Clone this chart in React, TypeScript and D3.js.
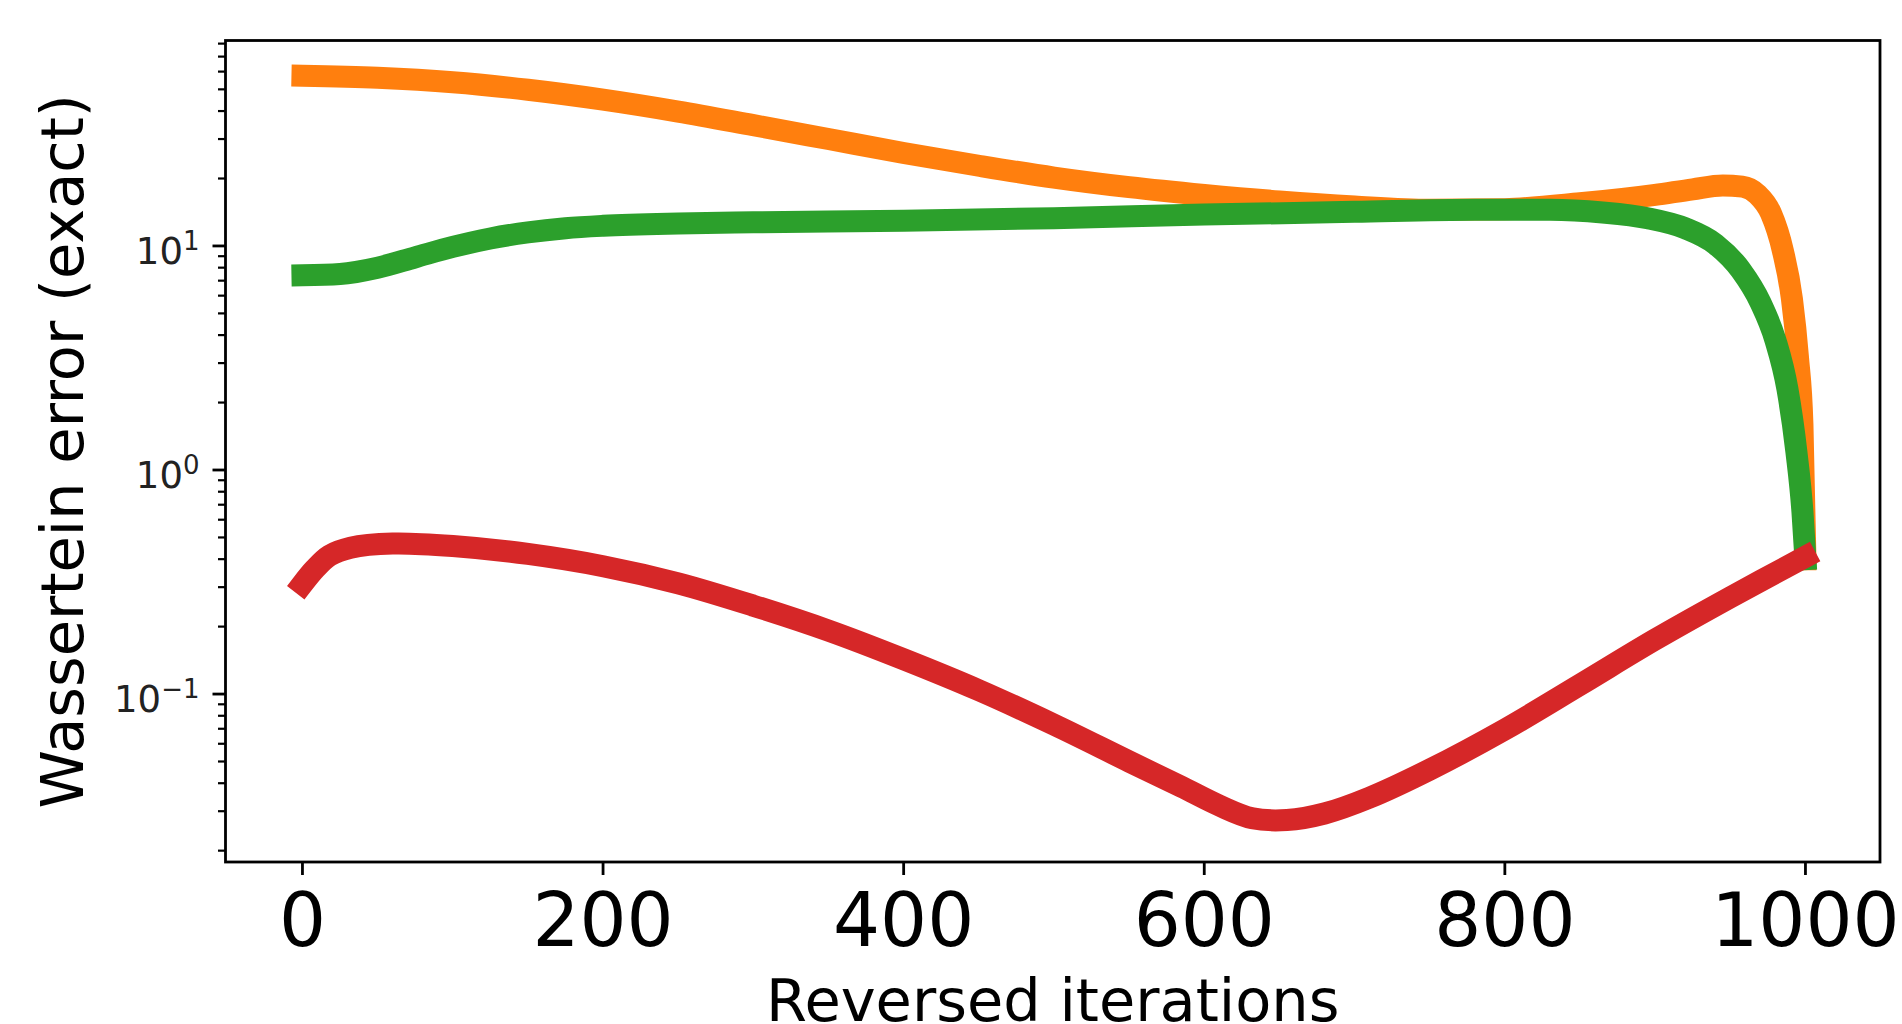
import React from "react";
import * as d3 from "d3";

const orangeX = [0, 50, 100, 150, 200, 250, 300, 350, 400, 450, 500, 550, 600, 650, 700, 750, 800, 850, 900, 925, 945, 958, 968, 977, 985, 991, 995, 998, 1000];
const orangeY = [57.5, 56.3, 53.8, 49.8, 45, 39.8, 34.6, 30, 26, 22.8, 20.2, 18.3, 16.9, 15.8, 15.0, 14.5, 14.6, 15.5, 16.9, 17.9, 18.6, 18.4, 17.0, 14.0, 9.5, 5.8, 3.2, 1.6, 0.4];

const greenX = [0, 25, 50, 75, 100, 125, 150, 175, 200, 250, 300, 400, 500, 600, 700, 780, 830, 865, 895, 920, 940, 957, 970, 980, 988, 994, 998, 1000];
const greenY = [7.4, 7.5, 8.0, 8.9, 9.9, 10.8, 11.5, 12.0, 12.3, 12.6, 12.75, 12.95, 13.3, 13.8, 14.2, 14.5, 14.5, 14.1, 13.3, 12.0, 10.2, 7.8, 5.6, 3.8, 2.3, 1.2, 0.65, 0.4];

const redX = [0, 8, 18, 32, 60, 100, 150, 200, 250, 300, 350, 400, 450, 500, 550, 585, 610, 632, 655, 680, 710, 750, 800, 850, 900, 950, 1000];
const redY = [0.31, 0.36, 0.415, 0.45, 0.47, 0.458, 0.422, 0.372, 0.312, 0.248, 0.192, 0.143, 0.104, 0.073, 0.05, 0.0385, 0.0318, 0.0279, 0.0274, 0.0293, 0.0345, 0.046, 0.0695, 0.11, 0.175, 0.27, 0.41];

const xTicks = [0, 200, 400, 600, 800, 1000];
const yTickExps = [-1, 0, 1];

const series = [
  { name: "orange", xs: orangeX, ys: orangeY, color: "#ff7f0e", smooth: false },
  { name: "green", xs: greenX, ys: greenY, color: "#2ca02c", smooth: false },
  { name: "red", xs: redX, ys: redY, color: "#d62728", smooth: true },
];

const W = 1902;
const H = 1024;
const L = 225.5;
const R = 1880;
const T = 40.5;
const B = 862;

export default function App() {
  const x = d3.scaleLinear().domain([-51.2, 1049.6]).range([L, R]);
  const y = d3.scaleLog().domain([0.0178, 82.6]).range([B, T]);

  const lineMono = d3
    .line<[number, number]>()
    .x((d) => x(d[0]))
    .y((d) => y(d[1]))
    .curve(d3.curveMonotoneX);
  const lineSmooth = d3
    .line<[number, number]>()
    .x((d) => x(d[0]))
    .y((d) => y(d[1]))
    .curve(d3.curveCatmullRom.alpha(0.5));

  const minor: number[] = [];
  for (let e = -2; e <= 1; e++) {
    for (let m = 2; m <= 9; m++) {
      const v = m * Math.pow(10, e);
      if (v >= 0.0178 && v <= 82.6) minor.push(v);
    }
  }

  const font = "'DejaVu Sans', sans-serif";

  return (
    <svg
      width={W}
      height={H}
      style={{ position: "fixed", left: 0, top: 0, background: "#fff" }}
      fontFamily={font}
    >
      <rect x={0} y={0} width={W} height={H} fill="#fff" />
      <defs>
        <clipPath id="plotclip">
          <rect x={L} y={T} width={R - L} height={B - T} />
        </clipPath>
      </defs>
      <g clipPath="url(#plotclip)">
        {series.map((s) => {
          const pts = s.xs.map((v, i) => [v, s.ys[i]] as [number, number]);
          const d = (s.smooth ? lineSmooth(pts) : lineMono(pts)) || "";
          return (
            <path
              key={s.name}
              d={d}
              fill="none"
              stroke={s.color}
              strokeWidth={22}
              strokeLinecap="square"
              strokeLinejoin="round"
            />
          );
        })}
      </g>
      <rect x={L} y={T} width={R - L} height={B - T} fill="none" stroke="#000" strokeWidth={2.8} />
      {xTicks.map((t) => (
        <g key={t}>
          <line x1={x(t)} x2={x(t)} y1={B} y2={B + 13} stroke="#000" strokeWidth={2.8} />
          <text x={x(t)} y={B + 84} textAnchor="middle" fontSize={74} fill="#000">
            {t}
          </text>
        </g>
      ))}
      {minor.map((v) => (
        <line key={v} x1={L - 7.5} x2={L} y1={y(v)} y2={y(v)} stroke="#000" strokeWidth={2.2} />
      ))}
      {yTickExps.map((e) => (
        <g key={e}>
          <line x1={L - 13} x2={L} y1={y(Math.pow(10, e))} y2={y(Math.pow(10, e))} stroke="#000" strokeWidth={2.8} />
          <text x={L - 26} y={y(Math.pow(10, e)) + 18} textAnchor="end" fontSize={37} fill="#222">
            10
            <tspan dy={-14} fontSize={26}>
              {e < 0 ? "\u2212" + Math.abs(e) : String(e)}
            </tspan>
          </text>
        </g>
      ))}
      <text x={(L + R) / 2} y={1021} textAnchor="middle" fontSize={59} fill="#000">
        Reversed iterations
      </text>
      <text
        transform={`translate(83, ${(T + B) / 2}) rotate(-90)`}
        textAnchor="middle"
        fontSize={59}
        fill="#000"
      >
        Wassertein error (exact)
      </text>
    </svg>
  );
}
